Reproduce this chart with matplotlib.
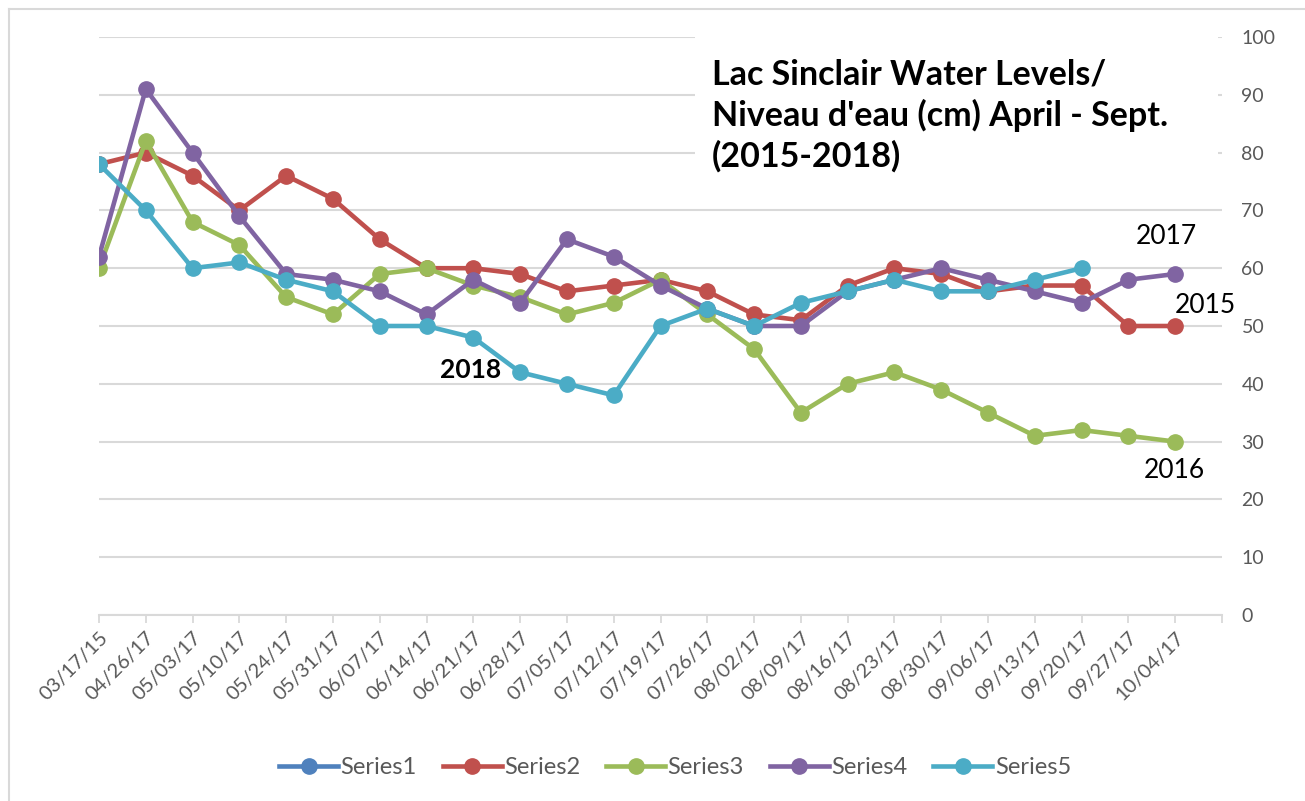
import numpy as np
import matplotlib
matplotlib.use("Agg")
import matplotlib.pyplot as plt
from matplotlib.lines import Line2D
from matplotlib.patches import Rectangle

plt.rcParams['font.family'] = ['Lato', 'DejaVu Sans']

# category labels (dates)
dates = ['03/17/15', '04/26/17', '05/03/17', '05/10/17', '05/24/17', '05/31/17',
         '06/07/17', '06/14/17', '06/21/17', '06/28/17', '07/05/17', '07/12/17',
         '07/19/17', '07/26/17', '08/02/17', '08/09/17', '08/16/17', '08/23/17',
         '08/30/17', '09/06/17', '09/13/17', '09/20/17', '09/27/17', '10/04/17']

# water levels (cm)
series1 = []
series2 = [78, 80, 76, 70, 76, 72, 65, 60, 60, 59, 56, 57,
           58, 56, 52, 51, 57, 60, 59, 56, 57, 57, 50, 50]   # 2015
series3 = [60, 82, 68, 64, 55, 52, 59, 60, 57, 55, 52, 54,
           58, 52, 46, 35, 40, 42, 39, 35, 31, 32, 31, 30]   # 2016
series4 = [62, 91, 80, 69, 59, 58, 56, 52, 58, 54, 65, 62,
           57, 53, 50, 50, 56, 58, 60, 58, 56, 54, 58, 59]   # 2017
series5 = [78, 70, 60, 61, 58, 56, 50, 50, 48, 42, 40, 38,
           50, 53, 50, 54, 56, 58, 56, 56, 58, 60]           # 2018

names = ['Series1', 'Series2', 'Series3', 'Series4', 'Series5']
colors = ['#4F81BD', '#C0504D', '#9BBB59', '#8064A2', '#4BACC6']

fig = plt.figure(figsize=(13.05, 8.01), dpi=100)
ax = fig.add_axes([99/1305, 1 - 615/801, (1222 - 99)/1305, (615 - 37)/801])

for name, vals, c in zip(names, [series1, series2, series3, series4, series5], colors):
    x = np.arange(len(vals))
    ax.plot(x, vals, color=c, lw=3.3, marker='o', markersize=11,
            label=name, solid_capstyle='round', zorder=3)

ax.set_xlim(0, len(dates))
ax.set_ylim(0, 100)
ax.set_yticks(range(0, 101, 10))
ax.yaxis.tick_right()
ax.tick_params(axis='y', length=0, pad=14, labelsize=14, labelcolor='#595959')
ax.set_xticks(np.arange(len(dates) + 1))
ax.set_xticklabels(dates + [''], rotation=45, ha='right', va='top',
                   rotation_mode='anchor')
ax.tick_params(axis='x', length=6, width=1.3, color='#D9D9D9', pad=4,
               labelsize=14.5, labelcolor='#595959')
ax.grid(axis='y', color='#D9D9D9', lw=1.5, zorder=0)
for s in ['top', 'left', 'right']:
    ax.spines[s].set_visible(False)
ax.spines['bottom'].set_color('#D9D9D9')
ax.spines['bottom'].set_linewidth(1.5)

# title box with white background covering the gridlines
fig.patches.append(Rectangle((695/1305, 1 - 200/801), (1218 - 695)/1305, 170/801,
                             transform=fig.transFigure, facecolor='white',
                             edgecolor='none', zorder=2))
fig.text(712/1305, 1 - 58/801,
         "Lac Sinclair Water Levels/\nNiveau d'eau (cm) April - Sept.\n(2015-2018)",
         fontsize=24.5, fontweight='bold', color='black', va='top', ha='left',
         linespacing=1.32, zorder=5)

# year labels
ax.text(1166/1305, 1 - 236/801, '2017', transform=fig.transFigure, fontsize=19,
        ha='center', va='center')
ax.text(1205/1305, 1 - 305/801, '2015', transform=fig.transFigure, fontsize=19,
        ha='center', va='center')
ax.text(1174/1305, 1 - 470/801, '2016', transform=fig.transFigure, fontsize=19,
        ha='center', va='center')
ax.text(471/1305, 1 - 370/801, '2018', transform=fig.transFigure, fontsize=19,
        ha='center', va='center', fontweight='bold')

handles = [Line2D([], [], color=c, lw=3.3, marker='o', markersize=11) for c in colors]
fig.legend(handles, names, loc='center', bbox_to_anchor=(675/1305, 1 - 768/801),
           ncol=5, frameon=False, fontsize=17, labelcolor='#595959',
           handlelength=2.5, handletextpad=0.1, columnspacing=1.1)

# chart border (left and top visible)
fig.add_artist(Line2D([9/1305, 9/1305], [0, 1 - 9/801], transform=fig.transFigure,
                      color='#D9D9D9', lw=1.5))
fig.add_artist(Line2D([9/1305, 1], [1 - 9/801, 1 - 9/801], transform=fig.transFigure,
                      color='#D9D9D9', lw=1.5))

fig.savefig('out.png', dpi=100)
